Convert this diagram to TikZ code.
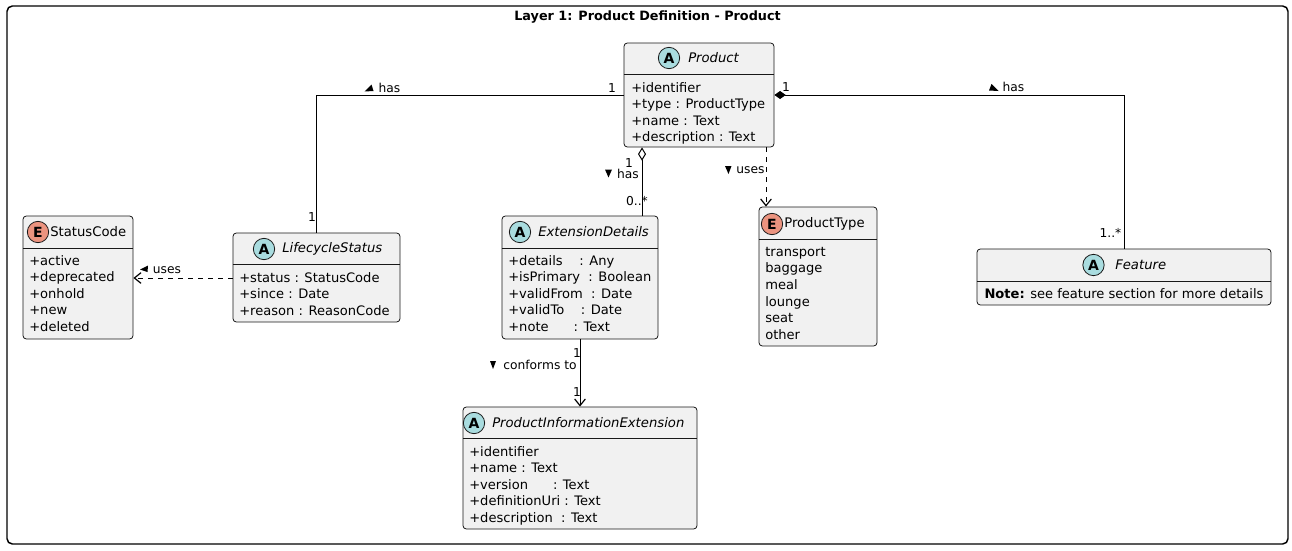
\documentclass[tikz,border=0pt]{standalone}
\usepackage{fontspec}
\setmainfont{DejaVu Sans}
\usepackage{tikz}
\usetikzlibrary{arrows.meta, positioning, fit, calc}
\definecolor{boxfill}{HTML}{F1F1F1}
\definecolor{boxline}{HTML}{181818}
\definecolor{abstractcol}{HTML}{A9DCDF}
\definecolor{enumcol}{HTML}{EB937F}

\tikzset{
  classbox/.style={draw=boxline, fill=boxfill, rounded corners=2.5pt, inner sep=0pt, line width=0.6pt},
  divider/.style={draw=boxline, line width=0.6pt},
  icon/.style={circle, draw=boxline, line width=0.6pt, minimum size=16pt, inner sep=0pt,
    font=\fontsize{10.5}{10}\selectfont\bfseries},
  abstracticon/.style={icon, fill=abstractcol},
  enumicon/.style={icon, fill=enumcol},
  classname/.style={anchor=west, inner sep=0pt, font=\fontsize{9.9}{12.4}\selectfont},
  abstractname/.style={classname, font=\fontsize{9.9}{12.4}\selectfont\itshape},
  attrs/.style={anchor=north west, align=left, inner sep=0pt, font=\fontsize{9.8}{12.4}\selectfont},
  lbl/.style={inner sep=0pt, font=\fontsize{9.2}{10}\selectfont},
  assoc/.style={line width=0.75pt},
  dep/.style={line width=0.75pt, dash pattern=on 3.75pt off 3.75pt},
  openhead/.style={-{Straight Barb[length=5pt, width=8pt, line width=0.9pt]}}
}

\begin{document}
\begin{tikzpicture}[x=0.75pt, y=-0.75pt]
  \useasboundingbox (0,0) rectangle (1292,550);
  % frame and title
  \node[draw, line width=1.1pt, rounded corners=4pt, inner sep=0pt, fit={(7,6) (1288,544)}] (frame) {};
  \node[font=\fontsize{9.6}{11}\selectfont\bfseries, inner sep=0pt] (title) at (647.5,17) {Layer 1: Product Definition - Product};

  % Product
  \node[classbox, fit={(624,43) (774,147)}] (product) {};
  \draw[divider] (product.west |- 0,74) -- (product.east |- 0,74);
  \node[abstracticon] (producticon) at (669,58) {A};
  \node[abstractname] (productname) at (688,58) {Product};
  \node[attrs] (productattrs) at (631,82) {+identifier\\+type : ProductType\\+name : Text\\+description : Text};

  % StatusCode
  \node[classbox, fit={(23,216) (133,339)}] (statuscode) {};
  \draw[divider] (statuscode.west |- 0,248) -- (statuscode.east |- 0,248);
  \node[enumicon] (statuscodeicon) at (38,232) {E};
  \node[classname] (statuscodename) at (50,232) {StatusCode};
  \node[attrs] (statuscodeattrs) at (29,255) {+active\\+deprecated\\+onhold\\+new\\+deleted};

  % LifecycleStatus
  \node[classbox, fit={(233,233) (400,322)}] (lifecycle) {};
  \draw[divider] (lifecycle.west |- 0,264) -- (lifecycle.east |- 0,264);
  \node[abstracticon] (lifecycleicon) at (264,249) {A};
  \node[abstractname] (lifecyclename) at (282,249) {LifecycleStatus};
  \node[attrs] (lifecycleattrs) at (239,272) {+status : StatusCode\\+since : Date\\+reason : ReasonCode};

  % ExtensionDetails
  \node[classbox, fit={(502,216) (658,339)}] (extension) {};
  \draw[divider] (extension.west |- 0,248) -- (extension.east |- 0,248);
  \node[abstracticon] (extensionicon) at (520,232) {A};
  \node[abstractname] (extensionname) at (538,232) {ExtensionDetails};
  \node[attrs] (extensionattrs) at (508,255) {+details\ \ \ \ : Any\\+isPrimary\ \ : Boolean\\+validFrom\ \ : Date\\+validTo\ \ \ \ : Date\\+note\ \ \ \ \ \ : Text};

  % ProductType
  \node[classbox, fit={(759,207) (877,346)}] (producttype) {};
  \draw[divider] (producttype.west |- 0,239) -- (producttype.east |- 0,239);
  \node[enumicon] (producttypeicon) at (772,224) {E};
  \node[classname] (producttypename) at (784,224) {ProductType};
  \node[attrs] (producttypeattrs) at (765,247) {transport\\baggage\\meal\\lounge\\seat\\other};

  % Feature
  \node[classbox, fit={(977,249) (1271,305)}] (feature) {};
  \draw[divider] (feature.west |- 0,281) -- (feature.east |- 0,281);
  \node[abstracticon] (featureicon) at (1093.5,265) {A};
  \node[abstractname] (featurename) at (1115,265) {Feature};
  \node[attrs, anchor=center] (featurenote) at (1124,294) {\textbf{Note:} see feature section for more details};

  % ProductInformationExtension
  \node[classbox, fit={(463,407) (697,529)}] (pie) {};
  \draw[divider] (pie.west |- 0,438) -- (pie.east |- 0,438);
  \node[abstracticon] (pieicon) at (474,423) {A};
  \node[abstractname] (piename) at (492,423) {ProductInformationExtension};
  \node[attrs] (pieattrs) at (469,446) {+identifier\\+name : Text\\+version\ \ \ \ \ \ : Text\\+definitionUri : Text\\+description\ \ : Text};

  % connectors
  \draw[assoc] (product.west |- 0,95) -| (lifecycle.north);
  \draw[assoc, {Diamond[length=8.5pt, width=6pt]}-] (product.east |- 0,95) -| (feature.north);
  \draw[assoc, {Diamond[open, length=10pt, width=6pt]}-] (product.south -| 642,0) -- (extension.north -| 642,0);
  \draw[dep, openhead] (product.south -| 766,0) -- (producttype.north -| 766,0);
  \draw[dep, openhead] (lifecycle.west |- 0,278) -- (statuscode.east |- 0,278);
  \draw[assoc, openhead] (extension.south) -- (pie.north);

  % labels
  \node[lbl] (m1) at (612,88) {1};
  \node[lbl] (m2) at (312,217) {1};
  \fill (364.5,91.5) -- (371.5,84.5) -- (373.5,91) -- cycle;
  \node[lbl] (has1) at (389.5,88) {has};
  \node[lbl] (m3) at (786,87) {1};
  \node[lbl] (m4) at (1110.5,233) {1..*};
  \fill (998.5,91) -- (991.5,84) -- (989,90.5) -- cycle;
  \node[lbl] (has2) at (1013.5,87) {has};
  \node[lbl] (m5) at (629,163) {1};
  \fill (605,169.5) -- (612,169.5) -- (608.5,177.5) -- cycle;
  \node[lbl] (has3) at (628,174) {has};
  \node[lbl] (m6) at (637,201) {0..*};
  \fill (725,166) -- (731.5,166) -- (728.5,174) -- cycle;
  \node[lbl] (uses1) at (750.5,170) {uses};
  \fill (140,269.5) -- (148,265.5) -- (147.5,272) -- cycle;
  \node[lbl] (uses2) at (167,270) {uses};
  \node[lbl] (m7) at (577,353) {1};
  \fill (490,361) -- (496,361) -- (493,369) -- cycle;
  \node[lbl] (conforms) at (540,365) {conforms to};
  \node[lbl] (m8) at (577,392) {1};
\end{tikzpicture}
\end{document}
